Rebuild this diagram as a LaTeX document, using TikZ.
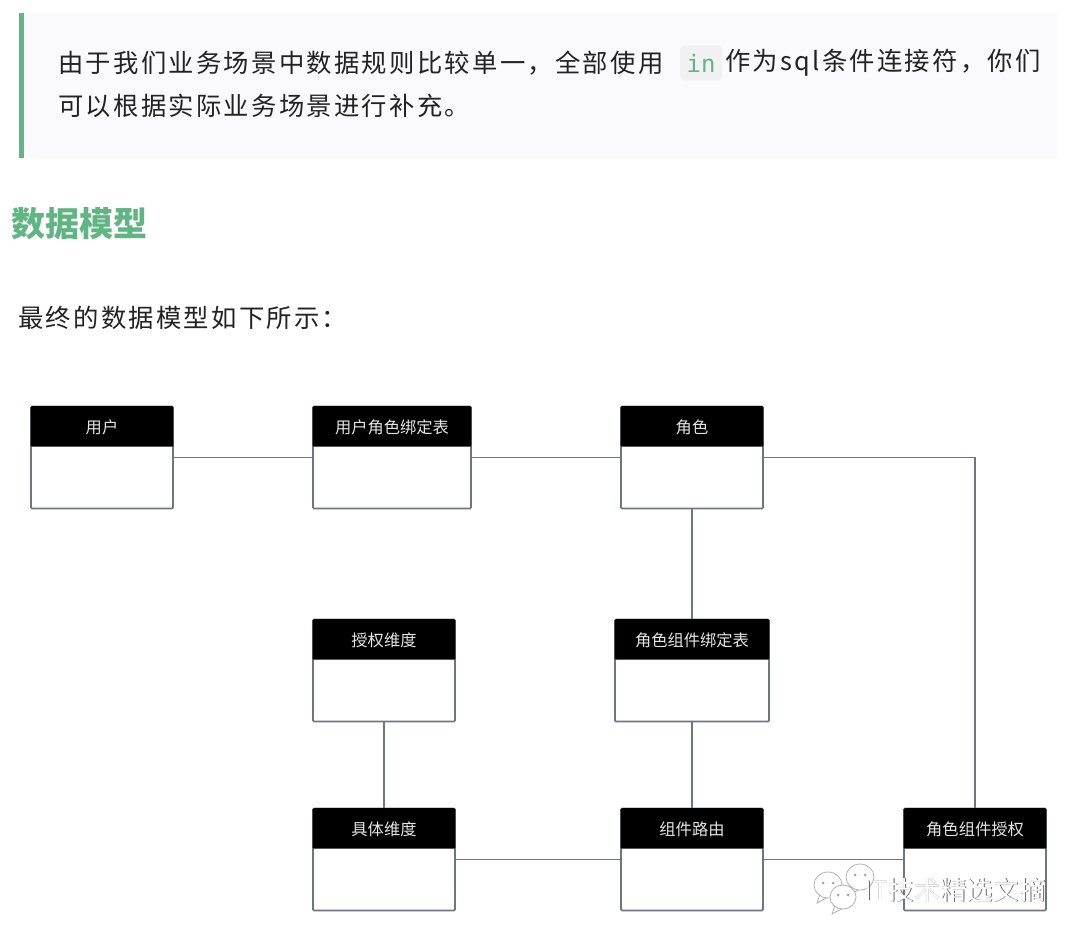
\documentclass[tikz,border=0pt]{standalone}
\usepackage{fontspec}
\setmainfont{Noto Sans CJK SC}
\newfontfamily\cjk[LetterSpace=9]{Noto Sans CJK SC}
\newfontfamily\cjkthin{Noto Sans CJK SC}
\setmonofont{DejaVu Sans Mono}
\usetikzlibrary{calc}
\definecolor{leaf}{HTML}{60B683}
\definecolor{pale}{HTML}{FAF9FE}
\definecolor{chip}{HTML}{F1F1F3}
\definecolor{edge}{HTML}{6F7683}
\definecolor{ink}{HTML}{222222}
\tikzset{
  para/.style={anchor=west,inner sep=0pt,text=ink,font=\cjk\fontsize{19}{22}\selectfont},
  tbl/.style={draw=edge,line width=1.2pt,rounded corners=.8pt,fill=white,minimum height=76.5pt,inner sep=0pt},
  link/.style={draw=edge,line width=1pt},
  bubble/.style={draw=black!30,fill=white,line width=.6pt},
  wmark/.style={inner sep=0pt,font=\cjkthin\fontsize{19.7}{22}\selectfont}
}
% one table: box, then the black title bar inside its top edge
\newcommand{\tbl}[5]{
\node[tbl,minimum width=#4*.75pt] (#1) at (#2,#3) {};
\fill[black,rounded corners=.8pt] ($(#1.north west)+(.4pt,-.4pt)$) rectangle ($(#1.north east)+(-.4pt,-30.75pt)$);
\node[inner sep=0pt,text=white!90!black,font=\cjkthin\fontsize{12.2}{14}\selectfont] (#1-title) at ($(#1.north)+(0,-16.2pt)$) {#5};
}
% chat bubble of the watermark, tail first
\newcommand{\chatbubble}[4]{
\draw[bubble] (#1-8,#2+#4-4) -- (#1-11,#2+#4+5) -- (#1+2,#2+#4-2);
\draw[bubble] (#1,#2) circle[x radius=#3,y radius=#4];
\fill[black!35] (#1-5,#2-2) circle[radius=1.5];
\fill[black!35] (#1+5,#2-2) circle[radius=1.5];
}

\begin{document}
\begin{tikzpicture}[x=.75pt,y=-.75pt]
\useasboundingbox (0,0) rectangle (1080,938);
\fill[white] (0,0) rectangle (1080,938);
% note block on top
\fill[pale] (19,13) rectangle (1057,158);
\fill[leaf] (19,13) rectangle (24,158);
\node[para] (line1) at (58,63) {由于我们业务场景中数据规则比较单一，全部使用};
\node[fill=chip,rounded corners=3pt,minimum width=31.5pt,minimum height=26pt,inner sep=0pt] (chipin) at (701,63) {};
\node[inner sep=0pt,text=leaf,font=\ttfamily\fontsize{18}{20}\selectfont] (kw) at (701,63) {in};
\node[para] (line1b) at (725,63) {作为sql条件连接符，你们};
\node[para] (line2) at (58,106) {可以根据实际业务场景进行补充。};
\node[anchor=west,inner sep=0pt,text=leaf,font=\fontsize{25.5}{28}\bfseries\selectfont] (head) at (11,224) {数据模型};
\node[para] (lead) at (18,318) {最终的数据模型如下所示：};

\tbl{user}{102}{457.5}{142}{用户}
\tbl{userrole}{392}{457.5}{158}{用户角色绑定表}
\tbl{role}{692}{457.5}{142}{角色}
\tbl{dimgrant}{384}{670.5}{142}{授权维度}
\tbl{rolebind}{692}{670.5}{154}{角色组件绑定表}
\tbl{dim}{384}{859.5}{142}{具体维度}
\tbl{route}{692}{859.5}{142}{组件路由}
\tbl{grant}{975}{859.5}{142}{角色组件授权}

\draw[link] (user) -- (userrole);
\draw[link] (userrole) -- (role);
\draw[link] (role) -- (rolebind);
\draw[link] (rolebind) -- (route);
\draw[link] (dimgrant) -- (dim);
\draw[link] (dim) -- (route);
\draw[link] (route) -- (grant);
\draw[link] (role.east) -| (grant.north);

% watermark over the last table
\begin{scope}
\chatbubble{828}{885}{14}{13}
\chatbubble{860}{877}{14}{13}
\chatbubble{843}{897}{13}{12}
\node[wmark,text=black!60] (wmshade) at (955.8,890.8) {IT技术精选文摘};
\node[wmark,text=white] (wm) at (955,890) {IT技术精选文摘};
\end{scope}
\end{tikzpicture}
\end{document}
